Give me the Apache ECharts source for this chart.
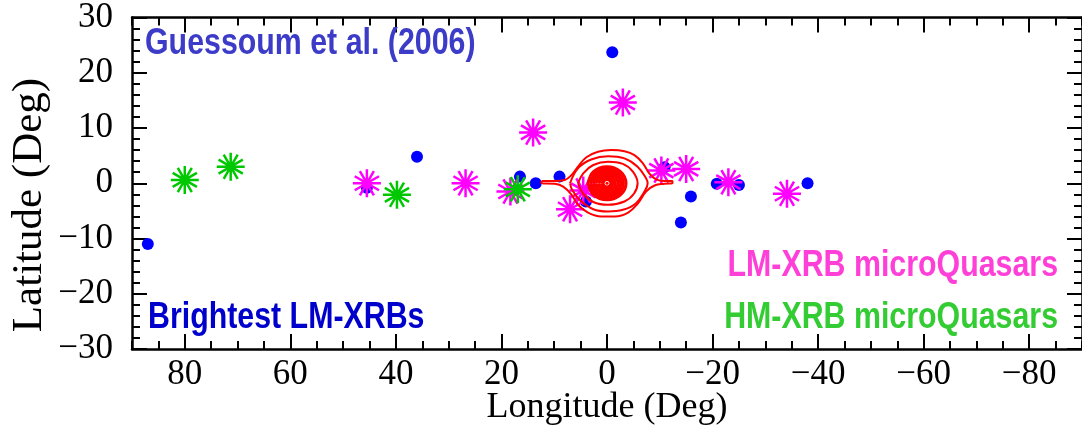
<!DOCTYPE html>
<html><head><meta charset="utf-8">
<script src="https://cdn.jsdelivr.net/npm/echarts@6/dist/echarts.min.js"></script>
<style>html,body{margin:0;padding:0;background:#fff}#c{width:1082px;height:432px}</style>
</head><body><div id="c"></div>
<script>
// ---- tick labels ----
const xMajorTicks = [80, 60, 40, 20, 0, -20, -40, -60, -80];
const yTickInterval = 10;

// ---- data: [longitude, latitude] ----
const brightestLMXRB = [
  [87.0, -11.0], [45.5, -0.8], [36.0, 4.8], [16.5, 1.2], [13.5, 0.0], [9.0, 1.2],
  [4.0, -3.3], [-1.0, 23.7], [-10.9, 2.9], [-14.0, -7.1], [-15.9, -2.4],
  [-20.8, -0.1], [-25.0, -0.3], [-38.0, 0.0]
];
const lmxrbMicroQuasars = [
  [45.5, 0.0], [26.8, 0.0], [18.3, -1.5], [14.0, 9.2], [7.0, -4.7], [4.5, -1.3],
  [-3.0, 14.6], [-10.3, 2.3], [-15.0, 2.6], [-23.0, 0.2], [-34.1, -1.9]
];
const hmxrbMicroQuasars = [
  [80.0, 0.6], [71.3, 3.0], [39.8, -2.1], [16.9, -1.1]
];

// ---- 511 keV contours around the Galactic centre ----
const contourOuter = [
  [12.4,0.4],[9.9,0.4],[8.0,0.6],[6.7,1.5],[5.5,3.0],[3.9,4.7],[1.7,5.7],[-0.8,6.0],
  [-3.3,5.8],[-5.2,5.1],[-6.8,3.6],[-8.0,1.8],[-9.3,0.7],[-10.9,0.4],[-12.4,0.4],
  [-12.4,0.0],[-10.9,-0.1],[-9.0,-0.4],[-7.4,-1.5],[-5.9,-3.6],[-4.0,-5.3],[-1.5,-6.0],
  [1.1,-6.0],[3.6,-5.3],[5.5,-3.9],[6.7,-2.1],[8.3,-0.6],[9.9,-0.1],[12.4,0.0],[12.4,0.4]
];
const contourRing2 = [
  [7.0,0.0],[5.5,2.7],[3.0,4.3],[-0.2,4.9],[-3.3,4.5],[-5.8,3.0],[-7.4,0.9],[-7.7,0.0],
  [-7.1,-1.5],[-5.5,-3.6],[-3.0,-4.8],[-0.2,-5.1],[2.6,-4.7],[5.2,-3.0],[6.6,-1.2],[7.0,0.0]
];
const contourRing3 = [
  [5.5,0.0],[4.5,1.8],[2.6,3.3],[-0.2,3.9],[-3.0,3.5],[-4.9,2.1],[-5.8,0.0],
  [-5.1,-1.9],[-3.3,-3.3],[-0.2,-3.9],[2.6,-3.4],[4.5,-1.9],[5.5,0.0]
];
const contourCore1 = [[3.6,0],[2.55,2.12],[0,3.0],[-2.55,2.12],[-3.6,0],[-2.55,-2.12],[0,-3.0],[2.55,-2.12],[3.6,0]];
const contourCore2 = [[3.1,0],[2.19,1.84],[0,2.6],[-2.19,1.84],[-3.1,0],[-2.19,-1.84],[0,-2.6],[2.19,-1.84],[3.1,0]];
const contourCore3 = [[2.6,0],[1.84,1.56],[0,2.2],[-1.84,1.56],[-2.6,0],[-1.84,-1.56],[0,-2.2],[1.84,-1.56],[2.6,0]];
const contourCore4 = [[2.1,0],[1.48,1.27],[0,1.8],[-1.48,1.27],[-2.1,0],[-1.48,-1.27],[0,-1.8],[1.48,-1.27],[2.1,0]];
const contourCore5 = [[1.6,0],[1.13,0.99],[0,1.4],[-1.13,0.99],[-1.6,0],[-1.13,-0.99],[0,-1.4],[1.13,-0.99],[1.6,0]];
const contourCore6 = [[1.1,0],[0.78,0.71],[0,1.0],[-0.78,0.71],[-1.1,0],[-0.78,-0.71],[0,-1.0],[0.78,-0.71],[1.1,0]];
const contourCore7 = [[0.75,0],[0.53,0.48],[0,0.68],[-0.53,0.48],[-0.75,0],[-0.53,-0.48],[0,-0.68],[0.53,-0.48],[0.75,0]];
const contourPeak = [[0, 0]];

const contours = [contourOuter, contourRing2, contourRing3, contourCore1, contourCore2,
  contourCore3, contourCore4, contourCore5, contourCore6, contourCore7];

const asterisk = 'path://M0,-1L0,1M-0.866,-0.5L0.866,0.5M-0.5,-0.866L0.5,0.866M-1,0L1,0M-0.866,0.5L0.866,-0.5M-0.5,0.866L0.5,-0.866';

const fmt = v => (v < 0 ? '\u2212' + (-v) : String(v));
const serif = 'Liberation Serif';
const ink = '#000';

function xAxisPair(position, labels) {
  return [{
    type: 'value', position, min: -90, max: 90, inverse: true, interval: 5,
    axisLine: { show: true, onZero: false, lineStyle: { color: ink, width: 2.5 } },
    axisTick: { show: true, inside: true, length: 15, customValues: xMajorTicks, lineStyle: { color: ink, width: 2 } },
    axisLabel: labels ? { show: true, customValues: xMajorTicks, formatter: fmt, margin: 8,
      fontFamily: serif, fontSize: 35, color: ink } : { show: false },
    splitLine: { show: false }
  }, {
    type: 'value', position, min: -90, max: 90, inverse: true, interval: 5,
    axisLine: { show: false, onZero: false },
    axisTick: { show: true, inside: true, length: 8, lineStyle: { color: ink, width: 2 } },
    axisLabel: { show: false }, splitLine: { show: false }
  }];
}
function yAxisDef(position, labels) {
  return {
    type: 'value', position, min: -30, max: 30, interval: yTickInterval,
    axisLine: { show: true, onZero: false, lineStyle: { color: ink, width: 2.5 } },
    axisTick: { show: true, inside: true, length: 15, lineStyle: { color: ink, width: 2 } },
    minorTick: { show: true, splitNumber: 5, length: 8, lineStyle: { color: ink, width: 2 } },
    axisLabel: labels ? { show: true, formatter: fmt, margin: 19, fontFamily: serif, fontSize: 35, color: ink } : { show: false },
    splitLine: { show: false }, minorSplitLine: { show: false }
  };
}

const series = contours.map(c => ({
  type: 'line', data: c, xAxisIndex: 0, yAxisIndex: 0, symbol: 'none', showSymbol: false,
  smooth: 0.4, lineStyle: { color: '#ff0000', width: c === contourOuter || c === contourRing2 || c === contourRing3 ? 2 : 3 },
  silent: true
}));
series.push({ type: 'scatter', data: contourPeak, symbol: 'circle', symbolSize: 3, itemStyle: { color: '#ff0000', opacity: 1 }, silent: true });
series.push({ type: 'scatter', name: 'Brightest LM-XRBs', data: brightestLMXRB, symbol: 'circle', symbolSize: 12,
  itemStyle: { color: '#0000ff', opacity: 1 } });
series.push({ type: 'scatter', name: 'LM-XRB microQuasars', data: lmxrbMicroQuasars, symbol: asterisk, symbolSize: 28,
  itemStyle: { color: '#ff00ff', borderColor: '#ff00ff', borderWidth: 2.5, opacity: 1 } });
series.push({ type: 'scatter', name: 'HM-XRB microQuasars', data: hmxrbMicroQuasars, symbol: asterisk, symbolSize: 28,
  itemStyle: { color: '#00c800', borderColor: '#00c800', borderWidth: 2.5, opacity: 1 } });

const bold = 'bold 37px "Liberation Sans", Arial, sans-serif';
const chart = echarts.init(document.getElementById('c'), null, { renderer: 'canvas' });
chart.setOption({
  animation: false,
  backgroundColor: '#fff',
  grid: { left: 132, top: 17, right: -4, bottom: 83, containLabel: false },
  xAxis: [...xAxisPair('bottom', true), ...xAxisPair('top', false)],
  yAxis: [yAxisDef('left', true), yAxisDef('right', false)],
  series,
  graphic: [
    { type: 'text', x: 145, y: 44, scaleX: 0.82, z: 100,
      style: { text: 'Guessoum et al. (2006)', font: bold, fill: '#3c3cc8', align: 'left', verticalAlign: 'middle' } },
    { type: 'text', x: 148, y: 318, scaleX: 0.82, z: 100,
      style: { text: 'Brightest LM-XRBs', font: bold, fill: '#0000cd', align: 'left', verticalAlign: 'middle' } },
    { type: 'text', x: 1058, y: 266, scaleX: 0.82, z: 100,
      style: { text: 'LM-XRB microQuasars', font: bold, fill: '#ff40d8', align: 'right', verticalAlign: 'middle' } },
    { type: 'text', x: 1058, y: 318, scaleX: 0.82, z: 100,
      style: { text: 'HM-XRB microQuasars', font: bold, fill: '#33cc33', align: 'right', verticalAlign: 'middle' } },
    { type: 'text', x: 607, y: 408, z: 100,
      style: { text: 'Longitude (Deg)', font: '36px "Liberation Serif", serif', fill: ink, align: 'center', verticalAlign: 'middle' } },
    { type: 'text', x: 30, y: 205, rotation: Math.PI / 2, z: 100,
      style: { text: 'Latitude (Deg)', font: '43px "Liberation Serif", serif', fill: ink, align: 'center', verticalAlign: 'middle' } }
  ]
});
</script></body></html>
